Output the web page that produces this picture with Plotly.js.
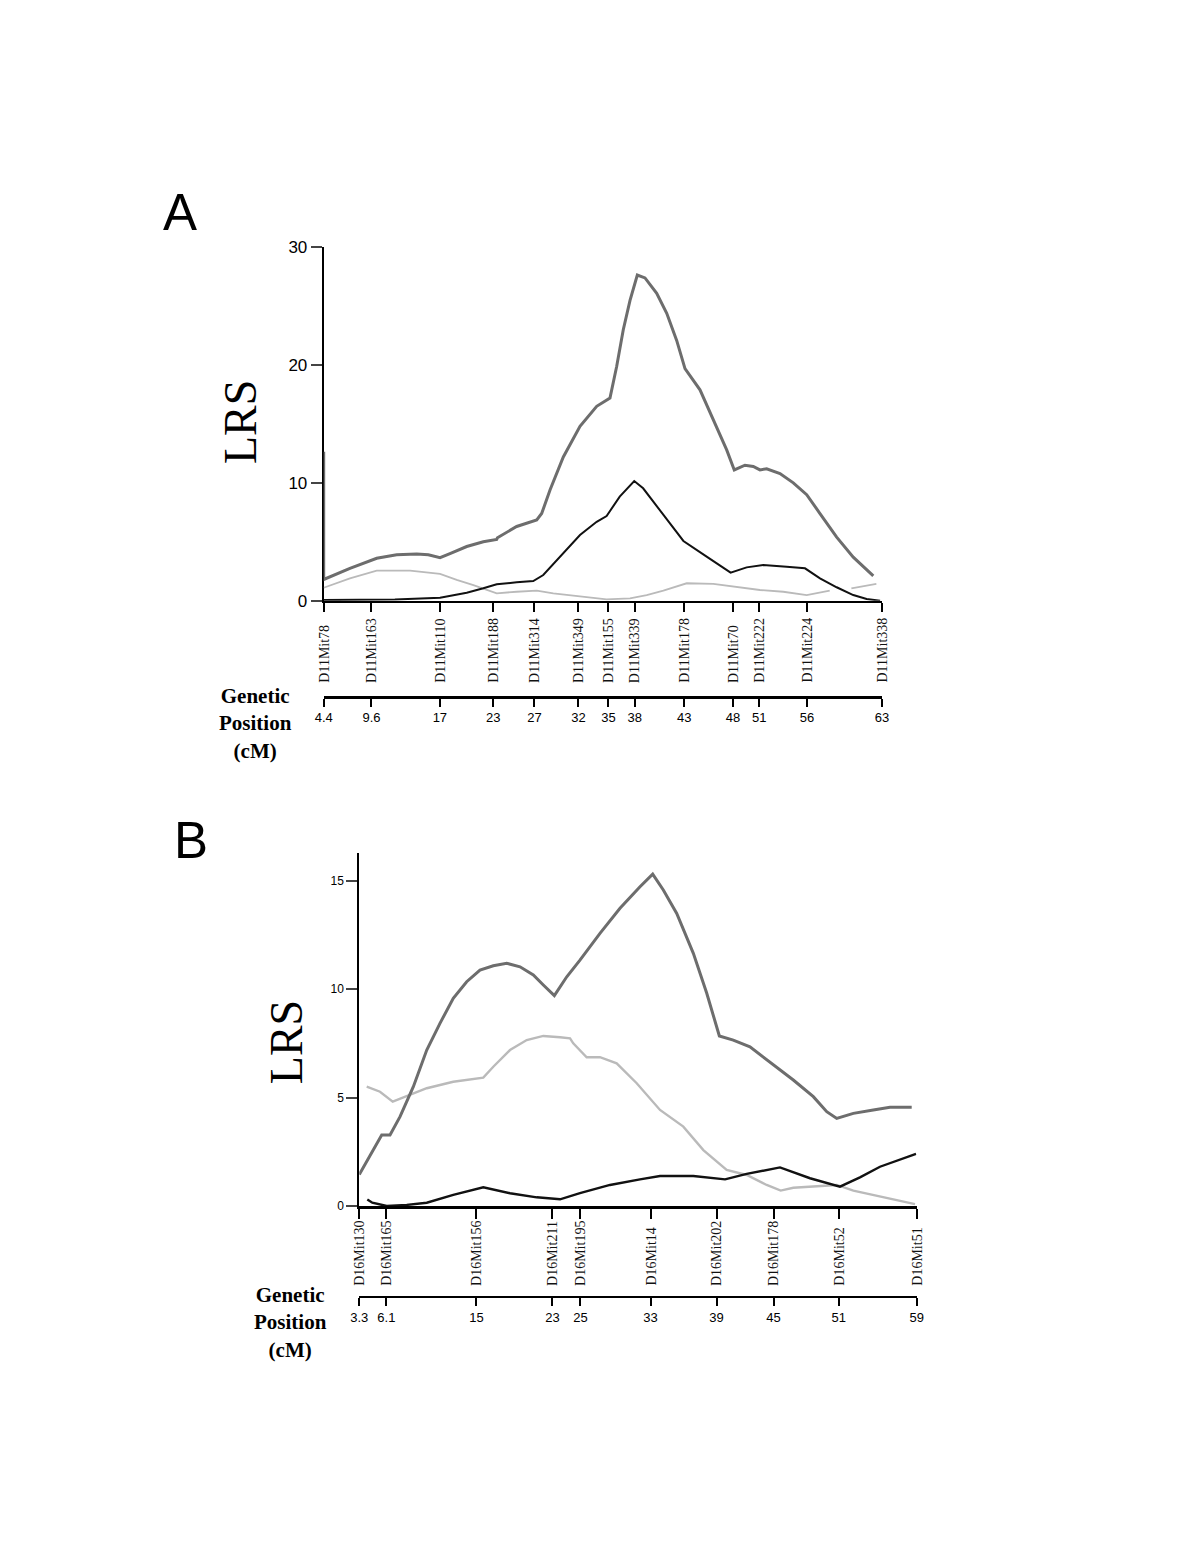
<!DOCTYPE html>
<html><head><meta charset="utf-8">
<script src="https://cdn.plot.ly/plotly-3.0.1.min.js"></script>
<style>html,body{margin:0;padding:0;background:#fff;} #chart{width:1200px;height:1553px;}</style>
</head><body><div id="chart"></div>
<script>
// ---------- Panel A (chromosome 11) ----------
const markersA = ['D11Mit78','D11Mit163','D11Mit110','D11Mit188','D11Mit314','D11Mit349','D11Mit155','D11Mit339','D11Mit178','D11Mit70','D11Mit222','D11Mit224','D11Mit338'];
const markerPosA = [4.4, 9.5, 16.8, 22.5, 26.9, 31.6, 34.8, 37.6, 42.9, 48.1, 50.9, 56.0, 64.0];
const cmLabelsA = ['4.4','9.6','17','23','27','32','35','38','43','48','51','56','63'];
const lrsTicksA = [0, 10, 20, 30];

const xA_dark = [4.4, 4.4, 7.2, 10.06, 12.19, 14.33, 15.57, 16.82, 17.88, 19.67, 21.44, 22.87, 22.95, 25.0, 27.14, 27.67, 28.56, 29.98, 31.76, 33.54, 34.96, 35.68, 36.38, 37.1, 37.88, 38.7, 39.95, 41.02, 42.08, 42.97, 44.57, 45.99, 47.42, 48.23, 49.37, 50.26, 50.97, 51.69, 53.11, 54.53, 55.96, 57.38, 59.16, 60.93, 63.07];
const yA_dark = [12.65, 1.8, 2.75, 3.6, 3.9, 3.96, 3.9, 3.65, 4.0, 4.6, 5.0, 5.2, 5.35, 6.3, 6.85, 7.4, 9.4, 12.2, 14.8, 16.5, 17.2, 19.9, 23.0, 25.5, 27.65, 27.4, 26.1, 24.4, 22.1, 19.7, 17.9, 15.3, 12.8, 11.1, 11.5, 11.4, 11.1, 11.2, 10.8, 10.0, 9.0, 7.4, 5.4, 3.7, 2.1];

const xA_black = [4.4, 12.0, 16.82, 19.67, 21.44, 22.87, 25.0, 26.77, 27.84, 29.62, 31.76, 33.54, 34.6, 36.0, 37.55, 38.5, 40.3, 42.8, 45.28, 47.84, 49.55, 51.32, 53.82, 55.78, 57.38, 59.16, 60.93, 62.36, 63.8];
const yA_black = [0.05, 0.1, 0.25, 0.68, 1.05, 1.4, 1.56, 1.67, 2.18, 3.74, 5.58, 6.7, 7.19, 8.83, 10.16, 9.54, 7.7, 5.07, 3.74, 2.38, 2.83, 3.03, 2.89, 2.75, 1.9, 1.14, 0.48, 0.14, 0.0];

const xA_light = [4.4, 7.2, 10.06, 13.62, 16.82, 18.6, 20.38, 22.87, 25.0, 27.14, 28.91, 31.76, 34.6, 37.1, 38.88, 40.66, 43.15, 45.99, 48.48, 50.97, 53.46, 55.96, 58.42, null, 60.73, 63.4];
const yA_light = [1.1, 1.9, 2.55, 2.55, 2.27, 1.76, 1.33, 0.63, 0.76, 0.85, 0.63, 0.4, 0.12, 0.2, 0.48, 0.85, 1.48, 1.42, 1.19, 0.91, 0.76, 0.48, 0.85, null, 1.05, 1.42];

// ---------- Panel B (chromosome 16) ----------
const markersB = ['D16Mit130','D16Mit165','D16Mit156','D16Mit211','D16Mit195','D16Mit14','D16Mit202','D16Mit178','D16Mit52','D16Mit51'];
const markerPosB = [3.3, 6.0, 15.0, 22.6, 25.4, 32.4, 39.0, 44.7, 51.2, 59.0];
const cmLabelsB = ['3.3','6.1','15','23','25','33','39','45','51','59'];
const lrsTicksB = [0, 5, 10, 15];

const xB_dark = [3.3, 4.7, 5.54, 6.37, 7.37, 8.7, 10.04, 11.36, 12.69, 14.03, 15.36, 16.69, 18.03, 19.36, 20.69, 21.69, 22.79, 24.03, 25.35, 27.35, 29.35, 31.35, 32.62, 33.68, 35.02, 36.68, 38.02, 39.28, 40.67, 42.34, 43.67, 45.01, 46.67, 48.67, 50.01, 51.01, 52.67, 54.66, 56.33, 58.5];
const yB_dark = [1.45, 2.58, 3.27, 3.27, 4.12, 5.5, 7.19, 8.42, 9.58, 10.34, 10.88, 11.08, 11.19, 11.03, 10.65, 10.19, 9.7, 10.57, 11.34, 12.57, 13.73, 14.72, 15.3, 14.57, 13.49, 11.65, 9.81, 7.84, 7.65, 7.34, 6.88, 6.42, 5.81, 5.04, 4.35, 4.04, 4.27, 4.43, 4.55, 4.55];

const xB_light = [4.04, 5.37, 6.64, 8.04, 10.04, 12.69, 15.69, 16.69, 18.36, 20.03, 21.69, 23.36, 24.36, 24.68, 26.02, 27.35, 29.02, 31.02, 33.35, 35.68, 37.68, 40.01, 42.01, 44.01, 45.41, 46.67, 48.67, 51.01, 52.67, 55.33, 57.66, 58.83];
const yB_light = [5.5, 5.27, 4.81, 5.07, 5.43, 5.73, 5.92, 6.42, 7.19, 7.65, 7.84, 7.78, 7.73, 7.5, 6.86, 6.86, 6.58, 5.66, 4.43, 3.66, 2.58, 1.66, 1.43, 0.97, 0.71, 0.84, 0.89, 0.97, 0.71, 0.43, 0.2, 0.09];

const xB_black = [4.1, 4.6, 6.04, 8.04, 10.04, 12.69, 15.69, 18.36, 21.03, 23.36, 25.35, 28.35, 31.35, 33.35, 36.68, 39.85, 42.01, 45.34, 48.34, 51.33, 53.33, 55.33, 58.93];
const yB_black = [0.3, 0.15, 0.0, 0.05, 0.15, 0.51, 0.86, 0.59, 0.4, 0.31, 0.59, 0.97, 1.23, 1.38, 1.38, 1.23, 1.48, 1.78, 1.28, 0.89, 1.32, 1.81, 2.4];

// ---------- styling ----------
const DARK = '#6d6d6d', BLACK = '#111111', LIGHT = '#bababa';
const H = 1553, W = 1200;
const py = p => 1 - p / H;   // page pixel -> paper y
const px = p => p / W;       // page pixel -> paper x

function line(x, y, color, width, xa, ya) {
  return {x: x, y: y, mode: 'lines', type: 'scatter', xaxis: xa, yaxis: ya,
          line: {color: color, width: width}, hoverinfo: 'skip', showlegend: false, connectgaps: false};
}

const traces = [
  line(xA_light, yA_light, LIGHT, 1.8, 'x', 'y'),
  line(xA_black, yA_black, BLACK, 2, 'x', 'y'),
  line(xA_dark, yA_dark, DARK, 3, 'x', 'y'),
  line(xB_light, yB_light, LIGHT, 2.4, 'x2', 'y2'),
  line(xB_black, yB_black, BLACK, 2.4, 'x2', 'y2'),
  line(xB_dark, yB_dark, DARK, 3, 'x2', 'y2'),
  // carriers for the genetic-position axes
  {x: [markerPosA[0]], y: [null], xaxis: 'x3', yaxis: 'y', mode: 'lines', showlegend: false, hoverinfo: 'skip'},
  {x: [markerPosB[0]], y: [null], xaxis: 'x4', yaxis: 'y2', mode: 'lines', showlegend: false, hoverinfo: 'skip'}
];

const sans = 'Liberation Sans, Arial, sans-serif';
const serif = 'Liberation Serif, Times New Roman, serif';

const domA = [px(323.7), px(882)];
const domB = [px(359.3), px(916.7)];

const baseX = {showgrid: false, zeroline: false, showline: true, linecolor: '#000', ticks: 'outside', tickcolor: '#000', fixedrange: true};

const layout = {
  width: W, height: H,
  margin: {l: 0, r: 0, t: 0, b: 0},
  paper_bgcolor: '#fff', plot_bgcolor: 'rgba(0,0,0,0)',
  showlegend: false,
  xaxis: Object.assign({}, baseX, {domain: domA, range: [markerPosA[0], markerPosA[markerPosA.length - 1]], anchor: 'y',
    tickvals: markerPosA, showticklabels: false, linewidth: 2.5, ticklen: 9, tickwidth: 2}),
  yaxis: {domain: [py(600.7), py(247.3)], range: [0, 30], anchor: 'x', showgrid: false, zeroline: false, showline: true,
    linecolor: '#000', linewidth: 2, ticks: 'outside', ticklen: 11, tickwidth: 2, tickvals: lrsTicksA,
    tickfont: {family: sans, size: 17, color: '#000'}, layer: 'below traces', fixedrange: true},
  xaxis3: Object.assign({}, baseX, {overlaying: 'x', anchor: 'free', position: py(697.3), side: 'bottom',
    range: [markerPosA[0], markerPosA[markerPosA.length - 1]], tickvals: markerPosA, ticktext: cmLabelsA,
    linewidth: 2.5, ticklen: 8, tickwidth: 2, tickfont: {family: sans, size: 13, color: '#000'}}),

  xaxis2: Object.assign({}, baseX, {domain: domB, range: [markerPosB[0], markerPosB[markerPosB.length - 1]], anchor: 'y2',
    tickvals: markerPosB, showticklabels: false, linewidth: 2.5, ticklen: 10, tickwidth: 2}),
  yaxis2: {domain: [py(1206), py(852.7)], range: [0, 16.29], anchor: 'x2', showgrid: false, zeroline: false, showline: true,
    linecolor: '#000', linewidth: 2, ticks: 'outside', ticklen: 11, tickwidth: 2, tickvals: lrsTicksB,
    tickfont: {family: sans, size: 12, color: '#000'}, layer: 'below traces', fixedrange: true},
  xaxis4: Object.assign({}, baseX, {overlaying: 'x2', anchor: 'free', position: py(1296.7), side: 'bottom',
    range: [markerPosB[0], markerPosB[markerPosB.length - 1]], tickvals: markerPosB, ticktext: cmLabelsB,
    linewidth: 2.5, ticklen: 8, tickwidth: 2, tickfont: {family: sans, size: 13, color: '#000'}}),
  annotations: []
};

const ann = layout.annotations;
markersA.forEach((m, i) => ann.push({x: markerPosA[i], xref: 'x', y: py(684), yref: 'paper', text: m, textangle: -90,
  xanchor: 'center', yanchor: 'bottom', showarrow: false, borderpad: 0, font: {family: serif, size: 14, color: '#111'}}));
markersB.forEach((m, i) => ann.push({x: markerPosB[i], xref: 'x2', y: py(1287), yref: 'paper', text: m, textangle: -90,
  xanchor: 'center', yanchor: 'bottom', showarrow: false, borderpad: 0, font: {family: serif, size: 14, color: '#111'}}));

ann.push({x: px(180), y: py(213), xref: 'paper', yref: 'paper', text: 'A', showarrow: false, xanchor: 'center', yanchor: 'middle',
  font: {family: sans, size: 51, color: '#000'}});
ann.push({x: px(191), y: py(840), xref: 'paper', yref: 'paper', text: 'B', showarrow: false, xanchor: 'center', yanchor: 'middle',
  font: {family: sans, size: 51, color: '#000'}});
ann.push({x: px(240.5), y: py(422.5), xref: 'paper', yref: 'paper', text: 'LRS', textangle: -90, showarrow: false,
  xanchor: 'center', yanchor: 'middle', font: {family: serif, size: 46, color: '#000'}});
ann.push({x: px(286.7), y: py(1042.5), xref: 'paper', yref: 'paper', text: 'LRS', textangle: -90, showarrow: false,
  xanchor: 'center', yanchor: 'middle', font: {family: serif, size: 46, color: '#000'}});
ann.push({x: px(255.4), y: py(723), xref: 'paper', yref: 'paper', text: '<b>Genetic<br>Position<br>(cM)</b>', showarrow: false,
  xanchor: 'center', yanchor: 'middle', align: 'center', font: {family: serif, size: 21, color: '#000'}});
ann.push({x: px(290.8), y: py(1322.7), xref: 'paper', yref: 'paper', text: '<b>Genetic<br>Position<br>(cM)</b>', showarrow: false,
  xanchor: 'center', yanchor: 'middle', align: 'center', font: {family: serif, size: 21, color: '#000'}});

Plotly.newPlot('chart', traces, layout, {displayModeBar: false, staticPlot: true});
</script>
</body></html>
